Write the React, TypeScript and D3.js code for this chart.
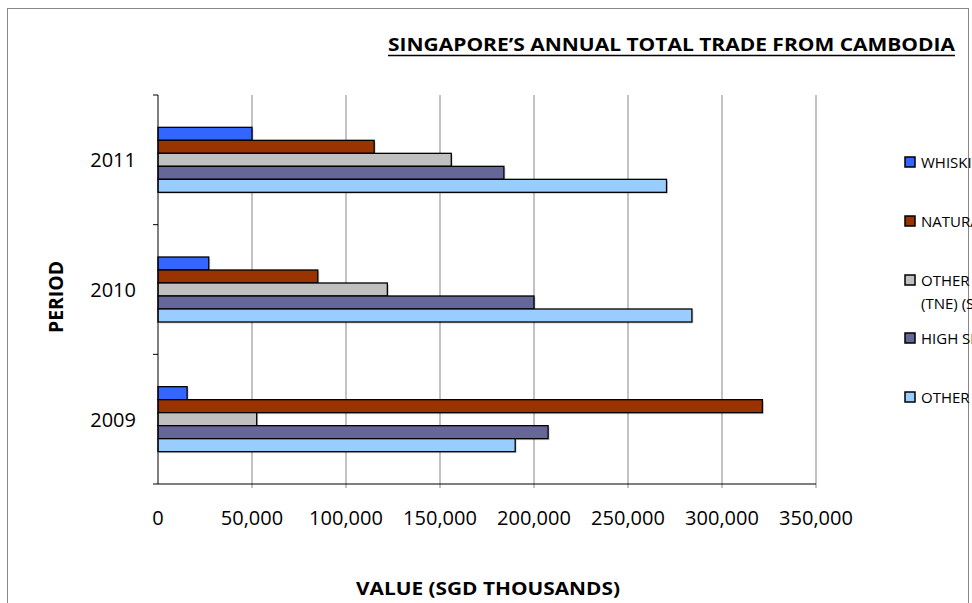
import React from "react";
import * as d3 from "d3";

const categories = ["2011", "2010", "2009"];
const seriesNames = [
  "WHISKIES",
  "NATURAL RUBBER",
  "OTHER MANUFACTURED ARTICLES",
  "HIGH SPEED DIESEL",
  "OTHER",
];
const seriesExtraLine = ["", "", "(TNE) (SITC 8)", "", ""];
const seriesColors = ["#3366FF", "#993300", "#C0C0C0", "#666699", "#99CCFF"];
// values in SGD thousands, per category (2011, 2010, 2009)
const whiskies = [50000, 27000, 15500];
const naturalRubber = [115000, 85000, 321500];
const otherTne = [156000, 122000, 52500];
const highSpeed = [184000, 200000, 207500];
const other = [270500, 284000, 190000];
const seriesValues = [whiskies, naturalRubber, otherTne, highSpeed, other];
const xTicks = [0, 50000, 100000, 150000, 200000, 250000, 300000, 350000];

const FONT = "'Open Sans', 'Liberation Sans', sans-serif";

export default function App() {
  const W = 972;
  const H = 603;
  const left = 158;
  const right = 816;
  const top = 95;
  const bottom = 484;

  const x = d3.scaleLinear().domain([0, 350000]).range([left, right]);
  const y = d3.scaleBand().domain(categories).range([top, bottom]).paddingInner(0).paddingOuter(0);
  const inner = d3
    .scaleBand()
    .domain(seriesNames)
    .range([0, y.bandwidth()])
    .paddingOuter(0.5 * (y.bandwidth() - 65) / 13 / 1)
    .paddingInner(0);
  // compute cluster explicitly: 5 bars of 13px centered in band
  const barH = 13;
  const clusterH = barH * seriesNames.length;
  const fmt = d3.format(",");

  const boundaries = [top, ...categories.map((c) => (y(c) as number) + y.bandwidth())];

  return (
    <svg
      width={W}
      height={H}
      style={{ position: "absolute", left: 0, top: 0, background: "#fff" }}
      fontFamily={FONT}
    >
      <rect x={7.5} y={8.5} width={961} height={600} fill="#fff" stroke="#888" strokeWidth={1} />

      {/* Title */}
      <text
        x={388}
        y={51}
        fontSize={17}
        fontWeight="bold"
        textLength={567}
        lengthAdjust="spacingAndGlyphs"
        fill="#000"
      >
        SINGAPORE’S  ANNUAL TOTAL TRADE FROM CAMBODIA
      </text>
      <line x1={388} x2={955} y1={55.5} y2={55.5} stroke="#000" strokeWidth={1.5} />

      {/* gridlines */}
      {xTicks.slice(1).map((t) => (
        <line key={t} x1={x(t)} x2={x(t)} y1={top} y2={bottom + 4} stroke="#868686" strokeWidth={1} />
      ))}

      {/* bars */}
      {categories.map((c, ci) => {
        const y0 = (y(c) as number) + (y.bandwidth() - clusterH) / 2;
        return seriesValues.map((vals, si) => {
          const by = y0 + si * barH;
          const w = x(vals[ci]) - x(0);
          return (
            <g key={c + si}>
              <rect x={x(0) + 1.5} y={by + 1.5} width={w} height={barH} fill="#000" opacity={0.18} />
              <rect
                x={x(0)}
                y={by}
                width={w}
                height={barH}
                fill={seriesColors[si]}
                stroke="#000"
                strokeWidth={1.3}
              />
            </g>
          );
        });
      })}

      {/* axes */}
      <line x1={left} x2={left} y1={top} y2={bottom} stroke="#000" strokeWidth={1} />
      <line x1={left} x2={right} y1={bottom} y2={bottom} stroke="#000" strokeWidth={1} />
      {boundaries.map((b, i) => (
        <line key={i} x1={left - 5} x2={left} y1={b} y2={b} stroke="#000" strokeWidth={1} />
      ))}

      {/* y labels */}
      {categories.map((c) => (
        <text
          key={c}
          x={136}
          y={(y(c) as number) + y.bandwidth() / 2}
          textAnchor="end"
          dominantBaseline="central"
          fontSize={20}
          fill="#000"
        >
          {c}
        </text>
      ))}

      {/* x labels */}
      {xTicks.map((t) => (
        <text key={t} x={x(t)} y={517} textAnchor="middle" dominantBaseline="central" fontSize={20} fill="#000">
          {fmt(t)}
        </text>
      ))}

      {/* axis titles */}
      <text
        x={488}
        y={588}
        textAnchor="middle"
        dominantBaseline="central"
        fontSize={17}
        fontWeight="bold"
        textLength={264}
        lengthAdjust="spacingAndGlyphs"
        fill="#000"
      >
        VALUE (SGD THOUSANDS)
      </text>
      <text
        transform="translate(56,297) rotate(-90)"
        textAnchor="middle"
        dominantBaseline="central"
        fontSize={19}
        fontWeight="bold"
        textLength={72}
        lengthAdjust="spacingAndGlyphs"
        fill="#000"
      >
        PERIOD
      </text>

      {/* legend */}
      {seriesNames.map((n, i) => {
        const ly = [162, 221, 280, 338, 397][i];
        return (
          <g key={n}>
            <rect x={905} y={ly - 5} width={10} height={10} fill={seriesColors[i]} stroke="#000" strokeWidth={1.5} />
            <text x={921} y={ly} dominantBaseline="central" fontSize={15} fill="#000">
              {n}
            </text>
            {seriesExtraLine[i] && (
              <text x={921} y={ly + 23} dominantBaseline="central" fontSize={15} fill="#000">
                {seriesExtraLine[i]}
              </text>
            )}
          </g>
        );
      })}
    </svg>
  );
}
